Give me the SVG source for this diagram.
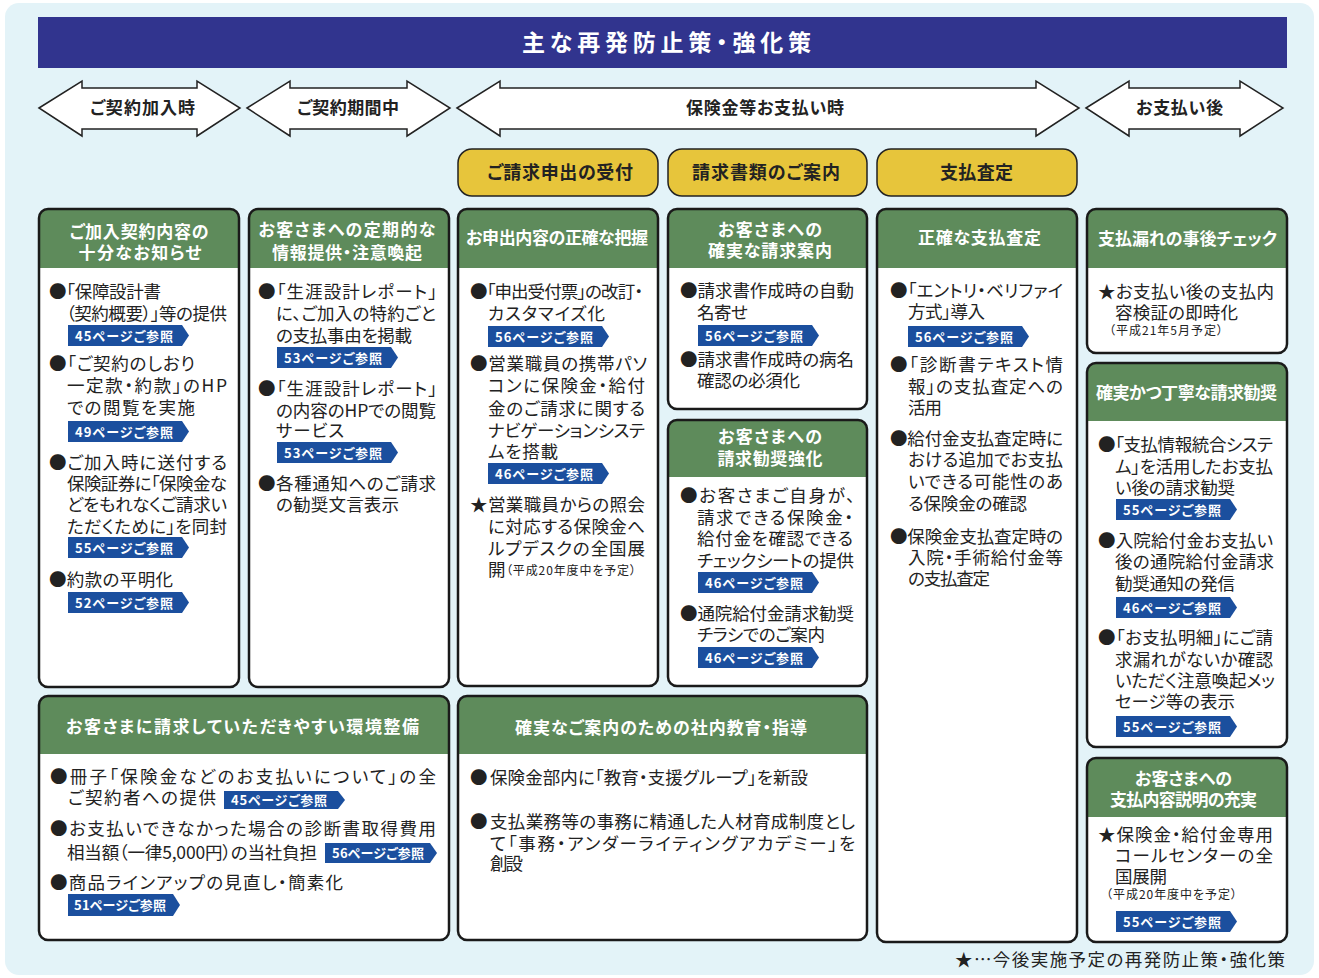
<svg xmlns="http://www.w3.org/2000/svg" width="1319" height="978" viewBox="0 0 1319 978">
<style>
text{font-family:"Noto Sans CJK JP","Noto Sans",sans-serif;font-feature-settings:"palt"}
.b{font-size:17.5px;fill:#222}
.s{font-size:12px;fill:#222}
.hd{font-size:17px;font-weight:bold;fill:#fff;text-anchor:middle}
.ph{font-size:17px;font-weight:bold;fill:#222;text-anchor:middle}
.yt{font-size:18px;font-weight:bold;fill:#222;text-anchor:middle}
.bt{font-size:13px;font-weight:bold;fill:#fff}
.box{fill:#fff;stroke:none}
.ol{fill:none;stroke:#1a1a1a;stroke-width:2.5}
.hdr{fill:#5e8b5b}
.bg{fill:#1b4f9e}
.arr{fill:#fff;stroke:#222;stroke-width:1.5}
.yb{fill:#e7c53b;stroke:#222;stroke-width:1.5}
</style>
<defs>
<polygon id="bdg" class="bg" points="0,0 114,0 121,10.5 114,21 0,21"/>
</defs>
<rect x="0" y="0" width="1319" height="978" fill="#fff"/>
<rect x="5" y="3" width="1309" height="972" rx="14" fill="#e3f3f8"/>

<g id="title">
<rect x="38" y="17" width="1249" height="51" fill="#31348e"/>
<text x="522" y="51" font-size="23" font-weight="bold" fill="#fff" textLength="289">主な再発防止策・強化策</text>
</g>

<g id="phases">
<polygon class="arr" points="39,108 82,81 82,88 197,88 197,81 240,108 197,136 197,129 82,129 82,136"/>
<polygon class="arr" points="247,108 290,81 290,88 407,88 407,81 450,108 407,136 407,129 290,129 290,136"/>
<polygon class="arr" points="457,108 500,81 500,88 1036,88 1036,81 1079,108 1036,136 1036,129 500,129 500,136"/>
<polygon class="arr" points="1086,108 1129,81 1129,88 1240,88 1240,81 1283,108 1240,136 1240,129 1129,129 1129,136"/>
<text class="ph" x="142.5" y="114" textLength="105">ご契約加入時</text>
<text class="ph" x="348" y="114" textLength="102">ご契約期間中</text>
<text class="ph" x="765" y="114" textLength="158">保険金等お支払い時</text>
<text class="ph" x="1179.5" y="114" textLength="87">お支払い後</text>
</g>

<g id="stage-uketsuke">
<rect class="yb" x="458" y="149" width="200" height="47" rx="14"/>
<text class="yt" x="560" y="179" textLength="146">ご請求申出の受付</text>
</g>
<g id="stage-annai">
<rect class="yb" x="668" y="149" width="199" height="47" rx="14"/>
<text class="yt" x="766" y="179" textLength="148">請求書類のご案内</text>
</g>
<g id="stage-satei">
<rect class="yb" x="877" y="149" width="200" height="47" rx="14"/>
<text class="yt" x="976.5" y="179" textLength="73">支払査定</text>
</g>

<!-- Column 1 -->
<g id="col1">
<rect class="box" x="39" y="209" width="200" height="478" rx="9"/>
<path class="hdr" d="M39,268 V218 Q39,209 48,209 H230 Q239,209 239,218 V268 Z"/>
<rect class="ol" x="39" y="209" width="200" height="478" rx="9"/>
<text class="hd" x="139" y="238" textLength="139">ご加入契約内容の</text>
<text class="hd" x="140" y="259" textLength="123">十分なお知らせ</text>
<text class="b" x="49" y="298" textLength="112">●「保障設計書</text>
<text class="b" x="66" y="320" textLength="161">（契約概要）」等の提供</text>
<use href="#bdg" x="68" y="325"/><text class="bt" x="75" y="340.5" textLength="98">45ページご参照</text>
<text class="b" x="49" y="370" textLength="146">●「ご契約のしおり</text>
<text class="b" x="67" y="392" textLength="160">一定款・約款」のHP</text>
<text class="b" x="67" y="414" textLength="128">での閲覧を実施</text>
<use href="#bdg" x="68" y="421"/><text class="bt" x="75" y="436.5" textLength="98">49ページご参照</text>
<text class="b" x="49" y="469" textLength="178">●ご加入時に送付する</text>
<text class="b" x="67" y="490" textLength="160">保険証券に「保険金な</text>
<text class="b" x="67" y="511" textLength="160">どをもれなくご請求い</text>
<text class="b" x="67" y="533" textLength="160">ただくために」を同封</text>
<use href="#bdg" x="68" y="537"/><text class="bt" x="75" y="552.5" textLength="98">55ページご参照</text>
<text class="b" x="49" y="586" textLength="124">●約款の平明化</text>
<use href="#bdg" x="68" y="592"/><text class="bt" x="75" y="607.5" textLength="98">52ページご参照</text>
</g>

<!-- Column 2 -->
<g id="col2">
<rect class="box" x="249" y="209" width="200" height="478" rx="9"/>
<path class="hdr" d="M249,268 V218 Q249,209 258,209 H440 Q449,209 449,218 V268 Z"/>
<rect class="ol" x="249" y="209" width="200" height="478" rx="9"/>
<text class="hd" x="347" y="236" textLength="177">お客さまへの定期的な</text>
<text class="hd" x="347" y="259" textLength="150">情報提供・注意喚起</text>
<text class="b" x="258" y="298" textLength="179">●「生涯設計レポート」</text>
<text class="b" x="276" y="320" textLength="160">に、ご加入の特約ごと</text>
<text class="b" x="276" y="342" textLength="136">の支払事由を掲載</text>
<use href="#bdg" x="277" y="347"/><text class="bt" x="284" y="362.5" textLength="98">53ページご参照</text>
<text class="b" x="258" y="395" textLength="179">●「生涯設計レポート」</text>
<text class="b" x="276" y="417" textLength="160">の内容のHPでの閲覧</text>
<text class="b" x="276" y="437" textLength="68">サービス</text>
<use href="#bdg" x="277" y="442"/><text class="bt" x="284" y="457.5" textLength="98">53ページご参照</text>
<text class="b" x="258" y="490" textLength="178">●各種通知へのご請求</text>
<text class="b" x="276" y="511" textLength="123">の勧奨文言表示</text>
</g>

<!-- Column 3 -->
<g id="col3">
<rect class="box" x="458" y="209" width="200" height="477" rx="9"/>
<path class="hdr" d="M458,268 V218 Q458,209 467,209 H649 Q658,209 658,218 V268 Z"/>
<rect class="ol" x="458" y="209" width="200" height="477" rx="9"/>
<text class="hd" x="557" y="244" textLength="182">お申出内容の正確な把握</text>
<text class="b" x="470" y="298" textLength="173">●「申出受付票」の改訂・</text>
<text class="b" x="488" y="320" textLength="117">カスタマイズ化</text>
<use href="#bdg" x="488" y="326"/><text class="bt" x="495" y="341.5" textLength="98">56ページご参照</text>
<text class="b" x="470" y="370" textLength="177">●営業職員の携帯パソ</text>
<text class="b" x="488" y="392" textLength="157">コンに保険金・給付</text>
<text class="b" x="488" y="414.5" textLength="157">金のご請求に関する</text>
<text class="b" x="488" y="436.5" textLength="157">ナビゲーションシステ</text>
<text class="b" x="488" y="457.5" textLength="70">ムを搭載</text>
<use href="#bdg" x="488" y="463"/><text class="bt" x="495" y="478.5" textLength="98">46ページご参照</text>
<text class="b" x="470" y="510.5" textLength="175">★営業職員からの照会</text>
<text class="b" x="488" y="532.5" textLength="157">に対応する保険金へ</text>
<text class="b" x="488" y="554.5" textLength="157">ルプデスクの全国展</text>
<text class="b" x="488" y="575.5">開</text>
<text class="s" x="506" y="574.5" textLength="130">（平成20年度中を予定）</text>
</g>

<!-- Column 4 top -->
<g id="col4a">
<rect class="box" x="668" y="209" width="199" height="200" rx="9"/>
<path class="hdr" d="M668,268 V218 Q668,209 677,209 H858 Q867,209 867,218 V268 Z"/>
<rect class="ol" x="668" y="209" width="199" height="200" rx="9"/>
<text class="hd" x="770" y="236" textLength="104">お客さまへの</text>
<text class="hd" x="770" y="257" textLength="124">確実な請求案内</text>
<text class="b" x="680" y="296.5" textLength="174">●請求書作成時の自動</text>
<text class="b" x="697" y="318.5" textLength="51">名寄せ</text>
<use href="#bdg" x="698" y="325"/><text class="bt" x="705" y="340.5" textLength="98">56ページご参照</text>
<text class="b" x="680" y="365.5" textLength="174">●請求書作成時の病名</text>
<text class="b" x="697" y="386.5" textLength="103">確認の必須化</text>
</g>

<!-- Column 4 bottom -->
<g id="col4b">
<rect class="box" x="668" y="420" width="199" height="266" rx="9"/>
<path class="hdr" d="M668,477 V429 Q668,420 677,420 H858 Q867,420 867,429 V477 Z"/>
<rect class="ol" x="668" y="420" width="199" height="266" rx="9"/>
<text class="hd" x="770" y="443" textLength="104">お客さまへの</text>
<text class="hd" x="770" y="465" textLength="105">請求勧奨強化</text>
<text class="b" x="680" y="501.5" textLength="175">●お客さまご自身が、</text>
<text class="b" x="697" y="523.5" textLength="156">請求できる保険金・</text>
<text class="b" x="697" y="544.5" textLength="156">給付金を確認できる</text>
<text class="b" x="697" y="566.5" textLength="157">チェックシートの提供</text>
<use href="#bdg" x="698" y="572"/><text class="bt" x="705" y="587.5" textLength="98">46ページご参照</text>
<text class="b" x="680" y="619.5" textLength="174">●通院給付金請求勧奨</text>
<text class="b" x="697" y="640.5" textLength="128">チラシでのご案内</text>
<use href="#bdg" x="698" y="647"/><text class="bt" x="705" y="662.5" textLength="98">46ページご参照</text>
</g>

<!-- Column 5 -->
<g id="col5">
<rect class="box" x="877" y="209" width="200" height="733" rx="9"/>
<path class="hdr" d="M877,268 V218 Q877,209 886,209 H1068 Q1077,209 1077,218 V268 Z"/>
<rect class="ol" x="877" y="209" width="200" height="733" rx="9"/>
<text class="hd" x="979.5" y="244" textLength="123">正確な支払査定</text>
<text class="b" x="890" y="296.5" textLength="173">●「エントリ・ベリファイ</text>
<text class="b" x="908" y="317.5" textLength="77">方式」導入</text>
<use href="#bdg" x="908" y="326"/><text class="bt" x="915" y="341.5" textLength="98">56ページご参照</text>
<text class="b" x="890" y="370.5" textLength="173">●「診断書テキスト情</text>
<text class="b" x="908" y="392.5" textLength="155">報」の支払査定への</text>
<text class="b" x="908" y="413.5" textLength="34">活用</text>
<text class="b" x="890" y="444.5" textLength="173">●給付金支払査定時に</text>
<text class="b" x="908" y="466" textLength="155">おける追加でお支払</text>
<text class="b" x="908" y="488" textLength="155">いできる可能性のあ</text>
<text class="b" x="908" y="510" textLength="119">る保険金の確認</text>
<text class="b" x="890" y="542.5" textLength="173">●保険金支払査定時の</text>
<text class="b" x="908" y="563.5" textLength="155">入院・手術給付金等</text>
<text class="b" x="908" y="584.5" textLength="82">の支払査定</text>
</g>

<!-- Column 6 top -->
<g id="col6a">
<rect class="box" x="1087" y="209" width="200" height="144" rx="9"/>
<path class="hdr" d="M1087,268 V218 Q1087,209 1096,209 H1278 Q1287,209 1287,218 V268 Z"/>
<rect class="ol" x="1087" y="209" width="200" height="144" rx="9"/>
<text class="hd" x="1187.5" y="245" textLength="179">支払漏れの事後チェック</text>
<text class="b" x="1098" y="297.5" textLength="176">★お支払い後の支払内</text>
<text class="b" x="1115" y="318.5" textLength="123">容検証の即時化</text>
<text class="s" x="1109" y="334.5" textLength="114">（平成21年5月予定）</text>
</g>

<!-- Column 6 middle -->
<g id="col6b">
<rect class="box" x="1087" y="363" width="200" height="384" rx="9"/>
<path class="hdr" d="M1087,421 V372 Q1087,363 1096,363 H1278 Q1287,363 1287,372 V421 Z"/>
<rect class="ol" x="1087" y="363" width="200" height="384" rx="9"/>
<text class="hd" x="1186.5" y="399" textLength="181">確実かつ丁寧な請求勧奨</text>
<text class="b" x="1098" y="451" textLength="175">●「支払情報統合システ</text>
<text class="b" x="1115" y="472.5" textLength="158">ム」を活用したお支払</text>
<text class="b" x="1115" y="493.5" textLength="120">い後の請求勧奨</text>
<use href="#bdg" x="1116" y="499"/><text class="bt" x="1123" y="514.5" textLength="98">55ページご参照</text>
<text class="b" x="1098" y="546.5" textLength="175">●入院給付金お支払い</text>
<text class="b" x="1115" y="567.5" textLength="159">後の通院給付金請求</text>
<text class="b" x="1115" y="589.5" textLength="120">勧奨通知の発信</text>
<use href="#bdg" x="1116" y="597"/><text class="bt" x="1123" y="612.5" textLength="98">46ページご参照</text>
<text class="b" x="1098" y="643.5" textLength="175">●「お支払明細」にご請</text>
<text class="b" x="1115" y="665.5" textLength="158">求漏れがないか確認</text>
<text class="b" x="1115" y="686.5" textLength="160">いただく注意喚起メッ</text>
<text class="b" x="1115" y="707.5" textLength="120">セージ等の表示</text>
<use href="#bdg" x="1116" y="716"/><text class="bt" x="1123" y="731.5" textLength="98">55ページご参照</text>
</g>

<!-- Column 6 bottom -->
<g id="col6c">
<rect class="box" x="1087" y="758" width="200" height="184" rx="9"/>
<path class="hdr" d="M1087,817 V767 Q1087,758 1096,758 H1278 Q1287,758 1287,767 V817 Z"/>
<rect class="ol" x="1087" y="758" width="200" height="184" rx="9"/>
<text class="hd" x="1183.5" y="785" textLength="97">お客さまへの</text>
<text class="hd" x="1183.5" y="806" textLength="147">支払内容説明の充実</text>
<text class="b" x="1098" y="840.5" textLength="175">★保険金・給付金専用</text>
<text class="b" x="1115" y="861.5" textLength="158">コールセンターの全</text>
<text class="b" x="1115" y="882.5" textLength="52">国展開</text>
<text class="s" x="1106" y="898.5" textLength="131">（平成20年度中を予定）</text>
<use href="#bdg" x="1116" y="911"/><text class="bt" x="1123" y="926.5" textLength="98">55ページご参照</text>
</g>

<!-- Bottom A -->
<g id="envA">
<rect class="box" x="39" y="696" width="410" height="244" rx="9"/>
<path class="hdr" d="M39,754 V705 Q39,696 48,696 H440 Q449,696 449,705 V754 Z"/>
<rect class="ol" x="39" y="696" width="410" height="244" rx="9"/>
<text class="hd" x="242.5" y="733" textLength="353">お客さまに請求していただきやすい環境整備</text>
<text class="b" x="50" y="782.5" textLength="386">●冊子「保険金などのお支払いについて」の全</text>
<text class="b" x="68" y="803.5" textLength="148">ご契約者への提供</text>
<polygon class="bg" points="224,791 338,791 345,800 338,809 224,809"/>
<text class="bt" x="231" y="805" textLength="96">45ページご参照</text>
<text class="b" x="50" y="834.5" textLength="386">●お支払いできなかった場合の診断書取得費用</text>
<text class="b" x="67" y="858.5" textLength="250">相当額（一律5,000円）の当社負担</text>
<polygon class="bg" points="325,843 430,843 437,853 430,863 325,863"/>
<text class="bt" x="332" y="858" textLength="92">56ページご参照</text>
<text class="b" x="50" y="888.5" textLength="293">●商品ラインアップの見直し・簡素化</text>
<polygon class="bg" points="68,894 173,894 180,905 173,916 68,916"/>
<text class="bt" x="74" y="910" textLength="92">51ページご参照</text>
</g>

<!-- Bottom B -->
<g id="eduB">
<rect class="box" x="458" y="696" width="409" height="244" rx="9"/>
<path class="hdr" d="M458,754 V705 Q458,696 467,696 H858 Q867,696 867,705 V754 Z"/>
<rect class="ol" x="458" y="696" width="409" height="244" rx="9"/>
<text class="hd" x="661" y="734" textLength="292">確実なご案内のための社内教育・指導</text>
<text class="b" x="470" y="783.5">●</text>
<text class="b" x="490" y="783.5" textLength="318">保険金部内に「教育・支援グループ」を新設</text>
<text class="b" x="470" y="827.5">●</text>
<text class="b" x="490" y="827.5" textLength="365">支払業務等の事務に精通した人材育成制度とし</text>
<text class="b" x="490" y="849.5" textLength="365">て「事務・アンダーライティングアカデミー」を</text>
<text class="b" x="490" y="869.5" textLength="33">創設</text>
</g>

<g id="footnote">
<text class="b" x="955" y="965.5" textLength="330">★…今後実施予定の再発防止策・強化策</text>
</g>
</svg>
